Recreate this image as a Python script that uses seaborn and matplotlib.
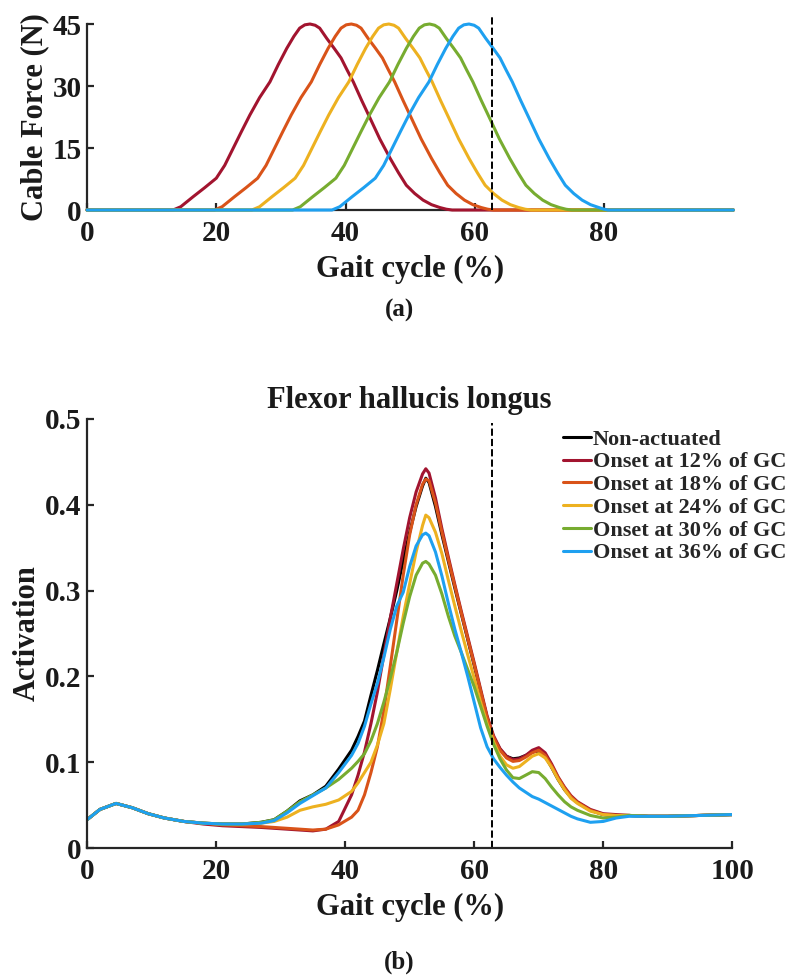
import matplotlib
matplotlib.use('Agg')

import pandas as pd
import matplotlib.pyplot as plt
import seaborn as sns

# --- data -------------------------------------------------------------
onset_labels = ["Onset at 12% of GC", "Onset at 18% of GC", "Onset at 24% of GC",
                "Onset at 30% of GC", "Onset at 36% of GC"]
all_labels = ["Non-actuated"] + onset_labels
colors = ["#000000", "#A2142F", "#D95319", "#EDB120", "#77AC30", "#1EA0F0"]

# (a) cable force profiles (same shape, shifted onset)
force_n = [0, 0, 0.8, 3.2, 5.4, 7.7, 10.8, 14.9, 19.0, 23.0, 27.2, 31.0, 35.2, 39.1,
           42.0, 44.0, 44.8, 45.0, 44.7, 44.0, 41.5, 39.2, 36.8, 34.0, 31.0, 26.5,
           22.2, 17.2, 12.5, 9.0, 6.0, 4.0, 2.4, 1.3, 0.6, 0.2, 0, 0]
force_x_12 = [0, 13.3, 14.5, 16.4, 18.2, 20.0, 21.3, 22.6, 23.9, 25.2, 26.7, 28.3, 29.6, 30.9,
              32.0, 32.9, 33.7, 34.5, 35.3, 36.0, 37.1, 38.2, 39.3, 40.2, 41.2, 42.5,
              43.8, 45.3, 46.9, 48.2, 49.4, 50.7, 52.0, 53.3, 54.6, 55.6, 56.5, 100]
force_x_18 = [0, 19.7, 20.9, 22.8, 24.6, 26.4, 27.7, 29.0, 30.3, 31.6, 33.1, 34.7, 36.0, 37.3,
              38.4, 39.3, 40.1, 40.9, 41.7, 42.4, 43.5, 44.6, 45.7, 46.6, 47.6, 48.9,
              50.2, 51.7, 53.3, 54.6, 55.8, 57.1, 58.4, 59.7, 61.0, 62.0, 62.9, 100]
force_x_24 = [0, 25.5, 26.7, 28.6, 30.4, 32.2, 33.5, 34.8, 36.1, 37.4, 38.9, 40.5, 41.8, 43.1,
              44.2, 45.1, 45.9, 46.7, 47.5, 48.2, 49.3, 50.4, 51.5, 52.4, 53.4, 54.7,
              56.0, 57.5, 59.1, 60.4, 61.6, 62.9, 64.2, 65.5, 66.8, 67.8, 68.7, 100]
force_x_30 = [0, 31.8, 33.0, 34.9, 36.7, 38.5, 39.8, 41.1, 42.4, 43.7, 45.2, 46.8, 48.1, 49.4,
              50.5, 51.4, 52.2, 53.0, 53.8, 54.5, 55.6, 56.7, 57.8, 58.7, 59.7, 61.0,
              62.3, 63.8, 65.4, 66.7, 67.9, 69.2, 70.5, 71.8, 73.1, 74.1, 75.0, 100]
force_x_36 = [0, 37.9, 39.1, 41.0, 42.8, 44.6, 45.9, 47.2, 48.5, 49.8, 51.3, 52.9, 54.2, 55.5,
              56.6, 57.5, 58.3, 59.1, 59.9, 60.6, 61.7, 62.8, 63.9, 64.8, 65.8, 67.1,
              68.4, 69.9, 71.5, 72.8, 74.0, 75.3, 76.6, 77.9, 79.2, 80.0, 80.6, 100]

# (b) flexor hallucis longus activation
gc = [0, 2, 4.5, 7, 9.5, 12, 15, 18, 21, 24, 27, 29, 31, 33, 35, 37, 39,
      41, 42, 43, 44, 45, 46, 47, 48, 49, 50, 51, 52, 52.5,
      53, 54, 55, 56, 57, 58, 59, 60, 61, 62, 63, 64, 65, 66, 67, 68, 69, 70,
      71, 72, 73, 74, 75, 76, 78, 80, 82, 84, 87, 90, 95, 100]
act_none = [0.033, 0.045, 0.052, 0.047, 0.040, 0.035, 0.031, 0.029, 0.028, 0.028, 0.030, 0.033,
            0.043, 0.055, 0.062, 0.072, 0.092,
            0.114, 0.130, 0.148, 0.178, 0.207, 0.238, 0.268, 0.300, 0.335, 0.368, 0.398, 0.422,
            0.431,
            0.426, 0.398, 0.365, 0.334, 0.303, 0.273, 0.243, 0.213, 0.182, 0.152, 0.129, 0.115,
            0.107, 0.104, 0.105, 0.108, 0.112, 0.113, 0.107, 0.094, 0.080, 0.068, 0.059, 0.053,
            0.044, 0.039, 0.038, 0.038, 0.037, 0.037, 0.038, 0.039]
act_12 = [0.033, 0.045, 0.052, 0.047, 0.040, 0.035, 0.031, 0.028, 0.026, 0.025, 0.024, 0.023,
          0.022, 0.021, 0.020, 0.022, 0.031,
          0.062, 0.085, 0.112, 0.145, 0.182, 0.225, 0.268, 0.308, 0.348, 0.385, 0.415, 0.436,
          0.442,
          0.437, 0.408, 0.372, 0.339, 0.307, 0.276, 0.246, 0.216, 0.185, 0.154, 0.131, 0.116,
          0.107, 0.103, 0.104, 0.108, 0.114, 0.117, 0.111, 0.098, 0.083, 0.071, 0.061, 0.054,
          0.045, 0.040, 0.039, 0.038, 0.037, 0.037, 0.038, 0.039]
act_18 = [0.033, 0.045, 0.052, 0.047, 0.040, 0.035, 0.031, 0.029, 0.027, 0.026, 0.025, 0.024,
          0.023, 0.022, 0.021, 0.022, 0.027,
          0.036, 0.044, 0.062, 0.088, 0.118, 0.160, 0.212, 0.265, 0.318, 0.365, 0.400, 0.424,
          0.430,
          0.428, 0.402, 0.368, 0.336, 0.305, 0.274, 0.244, 0.214, 0.183, 0.152, 0.129, 0.114,
          0.105, 0.101, 0.102, 0.106, 0.111, 0.114, 0.108, 0.096, 0.082, 0.070, 0.060, 0.053,
          0.044, 0.039, 0.038, 0.038, 0.037, 0.037, 0.038, 0.039]
act_24 = [0.033, 0.045, 0.052, 0.047, 0.040, 0.035, 0.031, 0.029, 0.028, 0.028, 0.029, 0.031,
          0.036, 0.044, 0.048, 0.051, 0.056,
          0.066, 0.076, 0.088, 0.100, 0.120, 0.145, 0.185, 0.228, 0.270, 0.308, 0.345, 0.376,
          0.388,
          0.385, 0.368, 0.343, 0.312, 0.282, 0.253, 0.225, 0.198, 0.170, 0.145, 0.124, 0.107,
          0.097, 0.093, 0.095, 0.101, 0.107, 0.110, 0.105, 0.094, 0.080, 0.068, 0.058, 0.052,
          0.043, 0.039, 0.038, 0.038, 0.037, 0.037, 0.038, 0.039]
act_30 = [0.033, 0.045, 0.052, 0.047, 0.040, 0.035, 0.031, 0.029, 0.028, 0.028, 0.030, 0.033,
          0.043, 0.054, 0.062, 0.070, 0.080,
          0.093, 0.101, 0.110, 0.125, 0.145, 0.170, 0.198, 0.228, 0.262, 0.293, 0.318, 0.332,
          0.334,
          0.331, 0.318, 0.296, 0.270, 0.247, 0.228, 0.208, 0.188, 0.165, 0.142, 0.121, 0.104,
          0.091, 0.082, 0.081, 0.085, 0.089, 0.088, 0.081, 0.071, 0.062, 0.054, 0.048, 0.044,
          0.038, 0.035, 0.036, 0.038, 0.037, 0.037, 0.038, 0.039]
act_36 = [0.033, 0.045, 0.052, 0.047, 0.040, 0.035, 0.031, 0.029, 0.028, 0.028, 0.029, 0.032,
          0.041, 0.052, 0.061, 0.070, 0.088,
          0.108, 0.122, 0.142, 0.168, 0.192, 0.222, 0.255, 0.282, 0.298, 0.328, 0.352, 0.365,
          0.367,
          0.364, 0.345, 0.317, 0.285, 0.255, 0.228, 0.200, 0.170, 0.140, 0.118, 0.104, 0.094,
          0.085, 0.077, 0.070, 0.065, 0.060, 0.057, 0.053, 0.049, 0.045, 0.041, 0.037, 0.034,
          0.030, 0.031, 0.035, 0.037, 0.037, 0.037, 0.038, 0.039]

toe_off = 62.7  # dashed reference line (% GC)
force_ticks = [0, 15, 30, 45]
gc_ticks_a = [0, 20, 40, 60, 80]
gc_ticks_b = [0, 20, 40, 60, 80, 100]
act_ticks = [0, 0.1, 0.2, 0.3, 0.4, 0.5]
act_ticklabels = ["0", "0.1", "0.2", "0.3", "0.4", "0.5"]

# --- long tables for seaborn ------------------------------------------
force_xs = [force_x_12, force_x_18, force_x_24, force_x_30, force_x_36]
df_force = pd.concat([pd.DataFrame({"gc": xs, "force": force_n, "case": lab})
                      for xs, lab in zip(force_xs, onset_labels)], ignore_index=True)

acts = [act_none, act_12, act_18, act_24, act_30, act_36]
df_act = pd.concat([pd.DataFrame({"gc": gc, "act": a, "case": lab})
                    for a, lab in zip(acts, all_labels)], ignore_index=True)

# --- style ------------------------------------------------------------
sns.set_style("ticks")
plt.rcParams['font.family'] = ['Liberation Serif', 'DejaVu Serif']
plt.rcParams['font.weight'] = 'bold'
plt.rcParams['axes.labelweight'] = 'bold'
plt.rcParams['axes.titleweight'] = 'bold'
plt.rcParams['xtick.direction'] = 'in'
plt.rcParams['ytick.direction'] = 'in'
axis_col = "#262626"
text_col = "#1a1a1a"

fig = plt.figure(figsize=(7.94, 9.76), dpi=100)
ax_a = fig.add_axes([0.1096, 0.7848, 0.8140, 0.1906])
ax_b = fig.add_axes([0.1096, 0.1311, 0.8127, 0.4396])

def style_axes(ax):
    sns.despine(ax=ax)
    for s in ["left", "bottom"]:
        ax.spines[s].set_linewidth(1.6)
        ax.spines[s].set_color(axis_col)
    ax.tick_params(axis="both", length=5, width=1.6, color=axis_col,
                   labelsize=21, labelcolor=text_col)
    ax.tick_params(axis="x", pad=7)
    ax.tick_params(axis="y", pad=4)

# (a)
sns.lineplot(data=df_force, x="gc", y="force", hue="case", hue_order=onset_labels,
             palette=colors[1:], estimator=None, sort=False, linewidth=2.2,
             legend=False, ax=ax_a, clip_on=False, zorder=3)
ax_a.axvline(toe_off, ymin=0, ymax=1.04, color="black", ls="--", lw=1.4,
             clip_on=False, zorder=4)
ax_a.set_xlim(0, 100)
ax_a.set_ylim(0, 45)
ax_a.set_xticks(gc_ticks_a)
ax_a.set_yticks(force_ticks)
ax_a.set_xlabel("Gait cycle (%)", fontsize=22, labelpad=6, color=text_col)
ax_a.set_ylabel("Cable Force (N)", fontsize=22, labelpad=2, color=text_col)
style_axes(ax_a)

# (b)
sns.lineplot(data=df_act, x="gc", y="act", hue="case", hue_order=all_labels,
             palette=colors, estimator=None, sort=False, linewidth=2.2, ax=ax_b)
ax_b.axvline(toe_off, ymin=0, ymax=0.99, color="black", ls="--", lw=1.4)
ax_b.set_xlim(0, 100)
ax_b.set_ylim(0, 0.5)
ax_b.set_xticks(gc_ticks_b)
ax_b.set_yticks(act_ticks)
ax_b.set_yticklabels(act_ticklabels)
ax_b.set_xlabel("Gait cycle (%)", fontsize=22, labelpad=6, color=text_col)
ax_b.set_ylabel("Activation", fontsize=22, labelpad=2, color=text_col)
ax_b.set_title("Flexor hallucis longus", fontsize=22, pad=8, color=text_col)
style_axes(ax_b)

leg = ax_b.legend(loc="upper left", bbox_to_anchor=(0.709, 0.5605),
                  bbox_transform=fig.transFigure, frameon=False, fontsize=16,
                  handlelength=1.25, handletextpad=0.1, labelspacing=0.1,
                  borderpad=0, borderaxespad=0)
for line in leg.get_lines():
    line.set_linewidth(2.2)

fig.text(0.503, 0.682, "(a)", ha="center", va="center", fontsize=18,
         fontweight="bold", color=text_col)
fig.text(0.503, 0.0143, "(b)", ha="center", va="center", fontsize=18,
         fontweight="bold", color=text_col)

fig.savefig("out.png", dpi=100)
